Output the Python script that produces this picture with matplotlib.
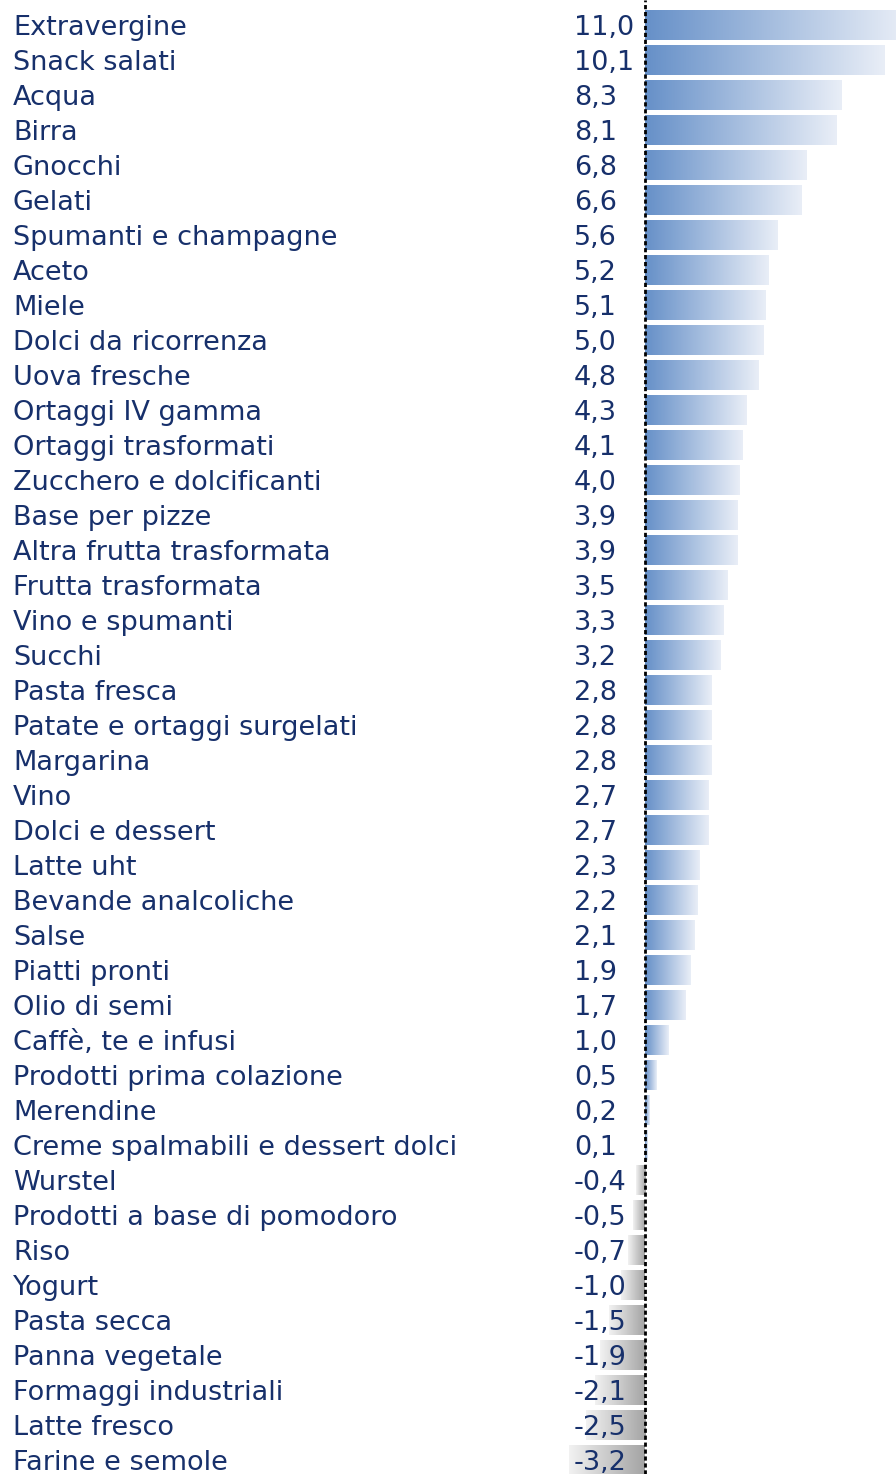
import matplotlib
matplotlib.use("Agg")
import matplotlib.pyplot as plt
import numpy as np
from matplotlib.colors import LinearSegmentedColormap

# categories and values (% change), top to bottom
categories = [
    "Extravergine", "Snack salati", "Acqua", "Birra", "Gnocchi", "Gelati",
    "Spumanti e champagne", "Aceto", "Miele", "Dolci da ricorrenza",
    "Uova fresche", "Ortaggi IV gamma", "Ortaggi trasformati",
    "Zucchero e dolcificanti", "Base per pizze", "Altra frutta trasformata",
    "Frutta trasformata", "Vino e spumanti", "Succhi", "Pasta fresca",
    "Patate e ortaggi surgelati", "Margarina", "Vino", "Dolci e dessert",
    "Latte uht", "Bevande analcoliche", "Salse", "Piatti pronti",
    "Olio di semi", "Caffè, te e infusi", "Prodotti prima colazione",
    "Merendine", "Creme spalmabili e dessert dolci", "Wurstel",
    "Prodotti a base di pomodoro", "Riso", "Yogurt", "Pasta secca",
    "Panna vegetale", "Formaggi industriali", "Latte fresco",
    "Farine e semole",
]
values = [
    11.0, 10.1, 8.3, 8.1, 6.8, 6.6, 5.6, 5.2, 5.1, 5.0,
    4.8, 4.3, 4.1, 4.0, 3.9, 3.9, 3.5, 3.3, 3.2, 2.8,
    2.8, 2.8, 2.7, 2.7, 2.3, 2.2, 2.1, 1.9, 1.7, 1.0,
    0.5, 0.2, 0.1, -0.4, -0.5, -0.7, -1.0, -1.5, -1.9, -2.1,
    -2.5, -3.2,
]

text_color = "#17306b"
pos_cmap = LinearSegmentedColormap.from_list("pos", ["#6690c8", "#e9eef7"])
neg_cmap = LinearSegmentedColormap.from_list("neg", ["#a4a4a4", "#f2f2f2"])

W, H = 896, 1474
px_per_unit = 23.7
row_px = 35.0
zero_px = 645
first_px = 25

fig = plt.figure(figsize=(W / 100, H / 100), dpi=100)
ax = fig.add_axes([0, 0, 1, 1])
ax.axis("off")

y = np.arange(len(categories))
# flat base colour keeps very thin bars visible under the gradient
base = ["#9fb8de" if v >= 0 else "#c8c8c8" for v in values]
bars = ax.barh(y, values, height=0.857, color=base, edgecolor="none", zorder=1)

grad = np.linspace(0, 1, 256).reshape(1, -1)
for bar, v in zip(bars, values):
    x0, y0, w, h = bar.get_x(), bar.get_y(), bar.get_width(), bar.get_height()
    if v >= 0:
        img = ax.imshow(grad, cmap=pos_cmap, aspect="auto",
                        extent=(x0, x0 + w, y0 + h, y0), zorder=2)
    else:
        img = ax.imshow(grad[:, ::-1], cmap=neg_cmap, aspect="auto",
                        extent=(x0 + w, x0, y0 + h, y0), zorder=2)
    img.set_clip_path(bar)

ax.set_xlim(-zero_px / px_per_unit, (W - zero_px) / px_per_unit)
ax.set_ylim((H - first_px) / row_px, -first_px / row_px)

# dashed zero line
ax.axvline(0, color="black", lw=2, linestyle=(0, (1.5, 1)), zorder=3)

label_x = (13 - zero_px) / px_per_unit
value_x = (574 - zero_px) / px_per_unit
for yi, cat, v in zip(y, categories, values):
    ax.text(label_x, yi + 0.08, cat, ha="left", va="center",
            fontsize=19.5, color=text_color, zorder=4)
    ax.text(value_x, yi + 0.08, f"{v:.1f}".replace(".", ","), ha="left",
            va="center", fontsize=19.5, color=text_color, zorder=4)

fig.savefig("out.png", dpi=100)
